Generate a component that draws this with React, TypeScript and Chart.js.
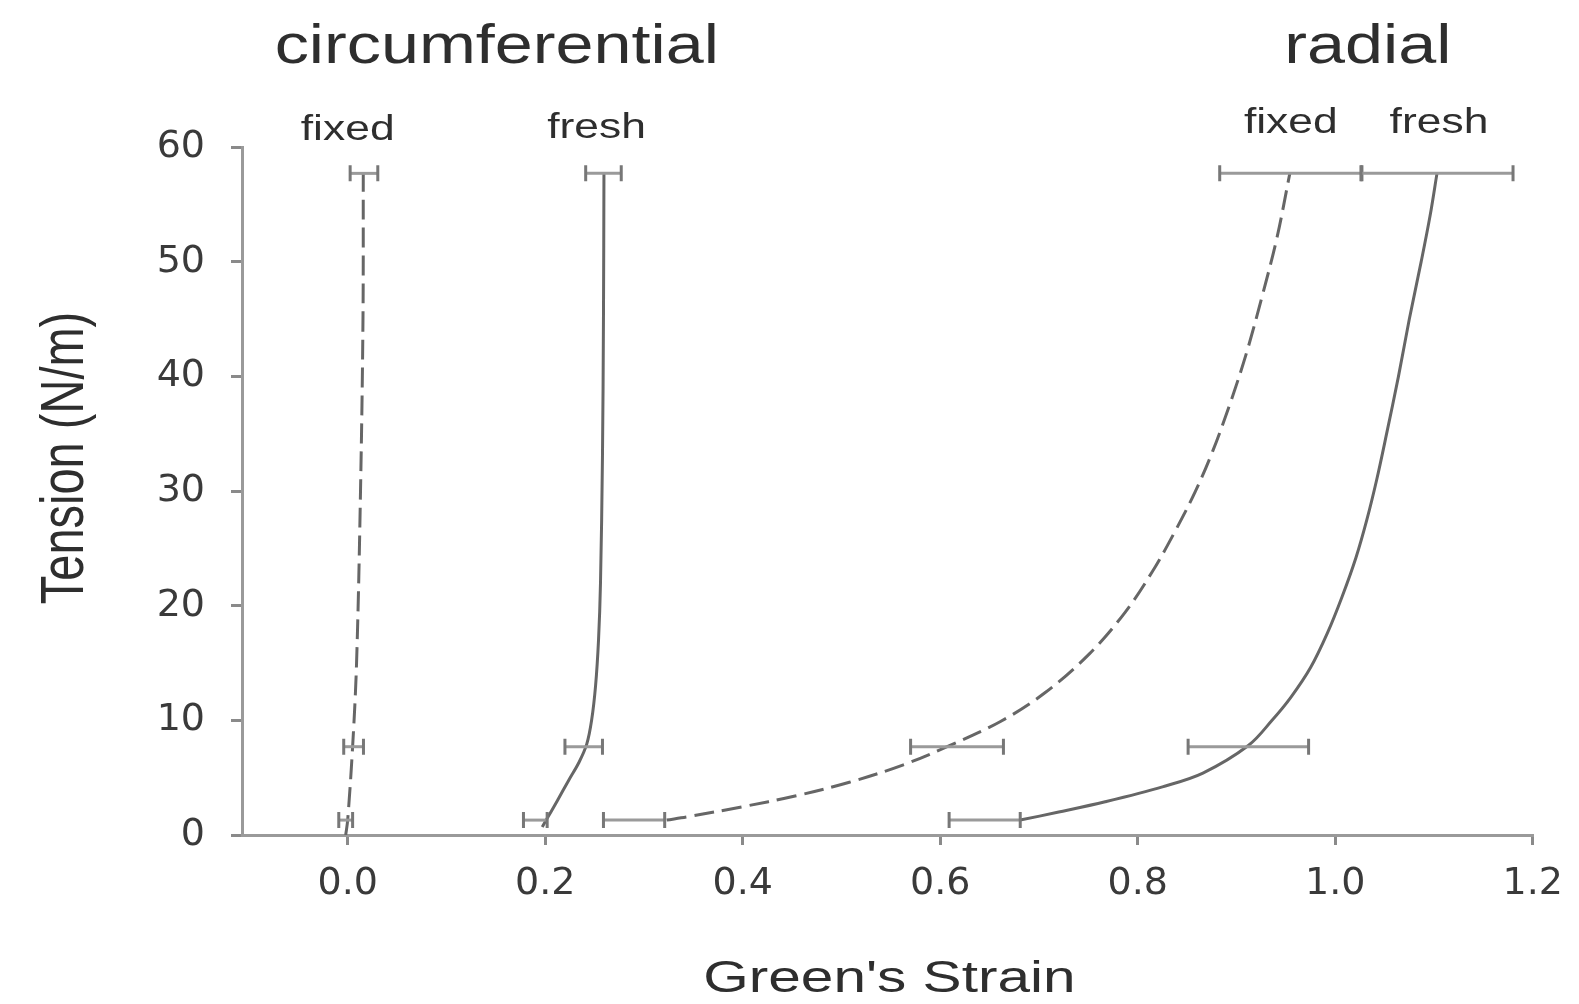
import React, { useEffect, useRef } from "react";
import { Chart, registerables } from "chart.js";

Chart.register(...registerables);

// ---- axes ----
const xTicks = [0, 0.2, 0.4, 0.6, 0.8, 1.0, 1.2];
const yTicks = [0, 10, 20, 30, 40, 50, 60];
const xMin = -0.107;
const xMax = 1.2;
const yMin = 0;
const yMax = 60;

// ---- curves (Green's strain vs tension) ----
const circFixedX = [-0.002, 0.0, 0.005, 0.009, 0.013, 0.0155, 0.0158];
const circFixedY = [0, 1.3, 7.7, 15, 30, 45, 57.7];

const circFreshX = [0.197, 0.201, 0.212, 0.224, 0.234, 0.242, 0.247, 0.251, 0.254, 0.256, 0.258, 0.259, 0.2595];
const circFreshY = [0.7, 1.3, 2.95, 4.8, 6.3, 7.9, 10.0, 13.0, 17.0, 22.0, 33.0, 45.0, 57.7];

const radFixedX = [0.323, 0.345, 0.399, 0.453, 0.508, 0.562, 0.607, 0.661, 0.706, 0.751, 0.787, 0.815, 0.836, 0.858, 0.876, 0.893, 0.910, 0.926, 0.941, 0.954];
const radFixedY = [1.3, 1.6, 2.45, 3.4, 4.6, 6.1, 7.7, 9.9, 12.4, 15.8, 19.4, 23.0, 26.2, 29.9, 33.5, 37.5, 42.0, 47.0, 52.1, 57.7];

const radFreshX = [0.681, 0.720, 0.767, 0.825, 0.866, 0.912, 0.936, 0.955, 0.975, 0.992, 1.007, 1.021, 1.032, 1.042, 1.052, 1.064, 1.075, 1.087, 1.096, 1.103];
const radFreshY = [1.3, 2.0, 2.9, 4.2, 5.4, 7.8, 10.0, 12.0, 14.6, 17.6, 20.8, 24.2, 27.5, 31.0, 35.0, 40.0, 45.0, 50.0, 54.0, 57.7];

// ---- horizontal error bars (mean ± sd of strain at three tension levels) ----
const tensionLevels = [1.3, 7.7, 57.7];
const circFixedMean = [-0.002, 0.006, 0.0165];
const circFixedSd = [0.007, 0.01, 0.014];
const circFreshMean = [0.19, 0.239, 0.259];
const circFreshSd = [0.012, 0.019, 0.018];
const radFixedMean = [0.29, 0.617, 0.955];
const radFixedSd = [0.031, 0.047, 0.072];
const radFreshMean = [0.645, 0.912, 1.103];
const radFreshSd = [0.036, 0.061, 0.077];

// ---- text ----
const panelTitles = ["circumferential", "radial"];
const panelTitleX = [0.151, 1.033];
const seriesLabels = ["fixed", "fresh", "fixed", "fresh"];
const seriesLabelX = [0.0, 0.252, 0.955, 1.105];
const seriesLabelY = [60.6, 60.8, 61.2, 61.2];
const xTitle = "Green's Strain";
const yTitle = "Tension (N/m)";

const pts = (xs: number[], ys: number[]) => xs.map((x, i) => ({ x, y: ys[i] }));

const TEXT = "#2e2e2e";
const FONT = '"Liberation Sans", Arial, sans-serif';

function stretchedText(
  ctx: CanvasRenderingContext2D,
  text: string,
  x: number,
  y: number,
  size: number,
  sx: number,
  rotate = false
) {
  ctx.save();
  ctx.translate(x, y);
  if (rotate) {
    ctx.rotate(-Math.PI / 2);
    ctx.scale(1, sx);
  } else {
    ctx.scale(sx, 1);
  }
  ctx.font = `${size}px ${FONT}`;
  ctx.fillStyle = TEXT;
  ctx.textAlign = "center";
  ctx.textBaseline = "alphabetic";
  ctx.fillText(text, 0, 0);
  ctx.restore();
}

const errorBarPlugin = {
  id: "errorBars",
  afterDatasetsDraw(chart: any) {
    const ctx = chart.ctx as CanvasRenderingContext2D;
    const xs = chart.scales.x;
    const ys = chart.scales.y;
    const groups = [
      [circFixedMean, circFixedSd],
      [circFreshMean, circFreshSd],
      [radFixedMean, radFixedSd],
      [radFreshMean, radFreshSd],
    ];
    ctx.save();
    ctx.lineCap = "butt";
    groups.forEach(([means, sds]) => {
      means.forEach((m, i) => {
        const y = ys.getPixelForValue(tensionLevels[i]);
        const x1 = xs.getPixelForValue(m - sds[i]);
        const x2 = xs.getPixelForValue(m + sds[i]);
        ctx.strokeStyle = "#9a9a9a";
        ctx.lineWidth = 3;
        ctx.beginPath();
        ctx.moveTo(x1, y);
        ctx.lineTo(x2, y);
        ctx.stroke();
        ctx.strokeStyle = "#777";
        ctx.lineWidth = 3;
        ctx.beginPath();
        ctx.moveTo(x1, y - 8);
        ctx.lineTo(x1, y + 8);
        ctx.moveTo(x2, y - 8);
        ctx.lineTo(x2, y + 8);
        ctx.stroke();
      });
    });
    ctx.restore();
  },
};

const textPlugin = {
  id: "texts",
  afterDraw(chart: any) {
    const ctx = chart.ctx as CanvasRenderingContext2D;
    const xs = chart.scales.x;
    const ys = chart.scales.y;
    const area = chart.chartArea;
    panelTitles.forEach((t, i) => {
      stretchedText(ctx, t, xs.getPixelForValue(panelTitleX[i]), area.top - 84, 56, 1.22);
    });
    seriesLabels.forEach((t, i) => {
      stretchedText(ctx, t, xs.getPixelForValue(seriesLabelX[i]), ys.getPixelForValue(seriesLabelY[i]), 35, 1.27);
    });
    stretchedText(ctx, xTitle, (area.left + area.right) / 2 + 2, area.bottom + 157, 44, 1.33);
    stretchedText(ctx, yTitle, area.left - 159, (area.top + area.bottom) / 2 - 33, 47, 1.3, true);
  },
};

export default function App() {
  const canvasRef = useRef<HTMLCanvasElement | null>(null);

  useEffect(() => {
    const canvas = canvasRef.current;
    if (!canvas) return;
    const lineBase = {
      showLine: true,
      pointRadius: 0,
      pointHoverRadius: 0,
      borderColor: "#666",
      borderWidth: 3,
      tension: 0.35,
      fill: false,
    };
    const chart = new Chart(canvas, {
      type: "scatter",
      data: {
        datasets: [
          { ...lineBase, label: "circumferential fixed", data: pts(circFixedX, circFixedY), borderDash: [20, 8] },
          { ...lineBase, label: "circumferential fresh", data: pts(circFreshX, circFreshY) },
          { ...lineBase, label: "radial fixed", data: pts(radFixedX, radFixedY), borderDash: [20, 8] },
          { ...lineBase, label: "radial fresh", data: pts(radFreshX, radFreshY) },
        ],
      },
      options: {
        animation: false,
        responsive: false,
        maintainAspectRatio: false,
        devicePixelRatio: 1,
        layout: { padding: { top: 147, right: 43, left: 0, bottom: 0 } },
        plugins: {
          legend: { display: false },
          tooltip: { enabled: false },
          title: { display: false },
        },
        scales: {
          x: {
            type: "linear",
            min: xMin,
            max: xMax,
            afterBuildTicks: (scale: any) => {
              scale.ticks = xTicks.map((v) => ({ value: v }));
            },
            afterFit: (scale: any) => {
              scale.height = 169;
            },
            border: { display: true, color: "#9a9a9a", width: 3 },
            grid: {
              display: true,
              drawOnChartArea: false,
              drawTicks: true,
              tickLength: 10,
              color: "#8a8a8a",
              lineWidth: 3,
            },
            ticks: {
              padding: 16,
              color: "#3a3a3a",
              font: { family: '"DejaVu Sans", sans-serif', size: 38 },
              maxRotation: 0,
              autoSkip: false,
              callback: (v: any) => Number(v).toFixed(1),
            },
          },
          y: {
            type: "linear",
            min: yMin,
            max: yMax,
            afterBuildTicks: (scale: any) => {
              scale.ticks = yTicks.map((v) => ({ value: v }));
            },
            afterFit: (scale: any) => {
              scale.width = 242;
            },
            border: { display: true, color: "#9a9a9a", width: 3 },
            grid: {
              display: true,
              drawOnChartArea: false,
              drawTicks: true,
              tickLength: 11,
              color: "#8a8a8a",
              lineWidth: 3,
            },
            ticks: {
              padding: 26,
              color: "#3a3a3a",
              font: { family: '"DejaVu Sans", sans-serif', size: 38 },
              autoSkip: false,
              callback: (v: any) => String(v),
            },
          },
        },
      },
      plugins: [errorBarPlugin, textPlugin],
    });
    return () => chart.destroy();
  }, []);

  return (
    <div style={{ position: "fixed", left: 0, top: 0, width: 1579, height: 1004, background: "#fff" }}>
      <canvas ref={canvasRef} width={1579} height={1004} style={{ width: 1579, height: 1004, display: "block" }} />
    </div>
  );
}
